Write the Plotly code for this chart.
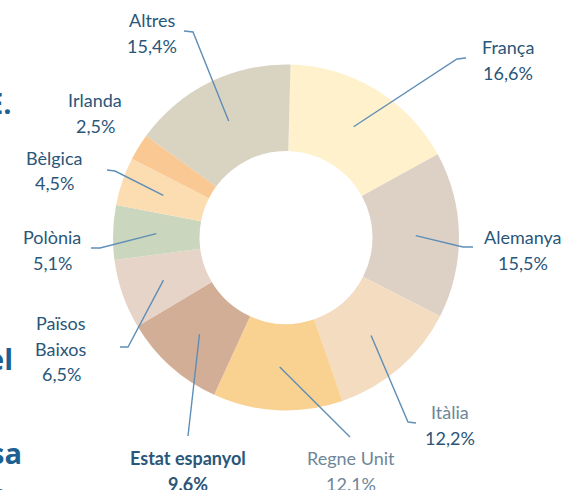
import math
import plotly.graph_objects as go

# ---- data ----
countries = ["França", "Alemanya", "Itàlia", "Regne Unit", "Estat espanyol",
             "Països Baixos", "Polònia", "Bèlgica", "Irlanda", "Altres"]
shares = [16.6, 15.5, 12.2, 12.1, 9.6, 6.5, 5.1, 4.5, 2.5, 15.4]
share_text = ["16,6%", "15,5%", "12,2%", "12.1%", "9.6%", "6,5%", "5,1%", "4,5%", "2,5%", "15,4%"]
colors = ["#FEF1CB", "#DDD0C4", "#F3DCC0", "#F9D190", "#D3AE96",
          "#E7D4C8", "#CAD6BD", "#FCDDB2", "#F9C893", "#D9D3C2"]

# ---- layout constants (pixels) ----
W, H = 565, 490
CX, CY, R_OUT, HOLE = 286, 237.5, 173, 0.5
ROT = 1.5
R_MID = R_OUT * (1 + HOLE) / 2

LABEL_COLOR = "#2A5679"
LIGHT_COLOR = "#6E8699"
LINE_COLOR = "#5F8EB6"
FONT = "Lato"

def px(x):
    return x / W

def py(y):
    return 1 - y / H

fig = go.Figure()
fig.add_trace(go.Pie(
    labels=countries, values=shares, sort=False, direction="clockwise",
    rotation=ROT, hole=HOLE, textinfo="none", hoverinfo="label+percent",
    marker=dict(colors=colors, line=dict(width=0)),
    domain=dict(x=[px(CX - R_OUT), px(CX + R_OUT)], y=[py(CY + R_OUT), py(CY - R_OUT)]),
    showlegend=False,
))

label_layout = {
    "França": dict(x=508, y=47, lines=["França"], leader=[(457, 59), (466, 58)]),
    "Alemanya": dict(x=523, y=237, lines=["Alemanya"], leader=[(463, 247), (473, 247)]),
    "Itàlia": dict(x=450, y=412, lines=["Itàlia"], leader=[(408, 422), (416, 423)]),
    "Regne Unit": dict(x=351, y=458, lines=["Regne Unit"], leader=[(350, 437)]),
    "Estat espanyol": dict(x=188, y=458, lines=["Estat espanyol"], leader=[(188, 436)]),
    "Països Baixos": dict(x=61, y=323, lines=["Països", "Baixos"], leader=[(128, 347), (120, 347)]),
    "Polònia": dict(x=52, y=237, lines=["Polònia"], leader=[(100, 248), (91, 248)]),
    "Bèlgica": dict(x=54, y=158, lines=["Bèlgica"], leader=[(115, 171), (107, 170)]),
    "Irlanda": dict(x=95, y=100, lines=["Irlanda"], leader=[]),
    "Altres": dict(x=152, y=20, lines=["Altres"], leader=[(193, 32), (184, 31)]),
}
LINE_GAP = 25.5

annotations = []
shapes = []
total = sum(shares)
cum = 0.0
for name, val, vtxt in zip(countries, shares, share_text):
    mid = (cum + val / 2) / total
    cum += val
    theta = math.radians(ROT + 360 * mid)
    ix = CX + R_MID * math.sin(theta)
    iy = CY - R_MID * math.cos(theta)
    lay = label_layout[name]
    bold = name == "Estat espanyol"
    name_color = LIGHT_COLOR if name in ("Regne Unit", "Itàlia") else LABEL_COLOR
    val_color = LIGHT_COLOR if name == "Regne Unit" else LABEL_COLOR
    lines = lay["lines"]
    for k, t in enumerate(lines + [vtxt]):
        is_val = k == len(lines)
        txt = f"<b>{t}</b>" if bold else t
        annotations.append(dict(
            x=px(lay["x"]), y=py(lay["y"] + k * LINE_GAP), xref="paper", yref="paper",
            text=txt, showarrow=False, xanchor="center", yanchor="middle",
            font=dict(family=FONT, size=18, color=val_color if is_val else name_color),
        ))
    if lay["leader"]:
        pts = [(ix, iy)] + lay["leader"]
        path = "M " + " L ".join(f"{px(a):.5f},{py(b):.5f}" for a, b in pts)
        shapes.append(dict(type="path", path=path, xref="paper", yref="paper",
                           line=dict(color=LINE_COLOR, width=1.4)))

# cut-off text fragments from the neighbouring page column
fragments = [("E.", 14, 103), ("el", 15, 358), ("sa", 24, 452), ("o", 10, 493)]
for t, x_right, y_mid in fragments:
    annotations.append(dict(
        x=px(x_right), y=py(y_mid), xref="paper", yref="paper", text=f"<b>{t}</b>",
        showarrow=False, xanchor="right", yanchor="middle",
        font=dict(family="Open Sans", size=29, color="#1B5F93"),
    ))

fig.update_layout(
    width=W, height=H, margin=dict(l=0, r=0, t=0, b=0),
    paper_bgcolor="white", plot_bgcolor="white",
    annotations=annotations, shapes=shapes,
)

fig.write_html("out.html", config={"displayModeBar": False},
               post_script="document.body.style.margin='0';document.body.style.overflow='hidden';")
